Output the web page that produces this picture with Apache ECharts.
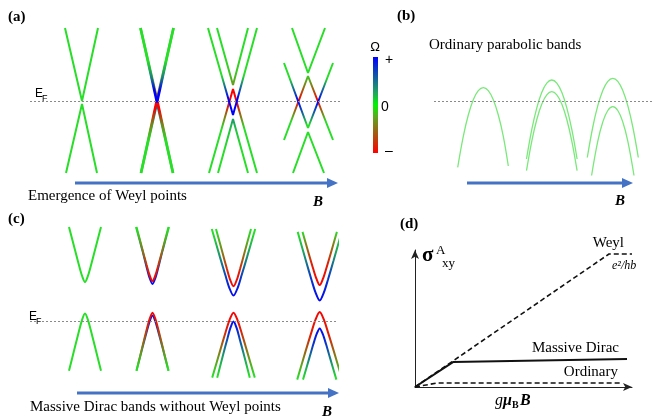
<!DOCTYPE html>
<html><head><meta charset="utf-8">
<script src="https://cdn.jsdelivr.net/npm/echarts/dist/echarts.min.js"></script>
<style>html,body{margin:0;padding:0;background:#fff}#c{width:654px;height:420px}</style>
</head><body><div id="c"></div>
<script>
// ================= DATA =================
// Band edges as [k, E] relative to each stage centre (E_F = 0, arbitrary units)
// Berry curvature Omega given as [E, Omega] stops along each band (-1 .. +1)

// ---- Panel (a): emergence of Weyl points ----
const stagesA = ['B0', 'B1', 'B2', 'B3'];
const a0Upper = [[-17, 73], [0, 0], [16, 73]];
const a0Lower = [[-16, -72], [0, -3], [15, -72]];
const a1Cone1Upper = [[-16.5, 73], [0, 1.5], [16.5, 73]];
const a1Cone1UpperOmega = [[1.5, -0.6], [20, -0.3], [40, 0]];
const a1Cone1Lower = [[-16, -72], [0, 1.5], [16, -72]];
const a1Cone1LowerOmega = [[1.5, -1], [-10, -1], [-25, -0.4], [-40, 0]];
const a1Cone2Upper = [[-16.5, 73], [0, -1.5], [16.5, 73]];
const a1Cone2UpperOmega = [[-1.5, 1], [12, 1], [25, 0.4], [40, 0]];
const a1Cone2Lower = [[-16, -72], [0, -1.5], [16, -72]];
const a1Cone2LowerOmega = [[-1.5, 0.6], [-20, 0.3], [-40, 0]];
const a2Cone1Upper = [[-16, 73], [0, 16], [15, 73]];
const a2Cone1UpperOmega = [[16, -0.35], [30, -0.1], [50, 0]];
const a2Cone1Lower = [[-24, -72], [0, 12], [24, -72]];
const a2Cone1LowerOmega = [[12, -1], [-4, -1], [-15, -0.5], [-28, 0]];
const a2Cone2Upper = [[-25, 73], [0, -14], [24, 73]];
const a2Cone2UpperOmega = [[-14, 1], [4, 1], [15, 0.5], [26, 0]];
const a2Cone2Lower = [[-15, -72], [0, -18], [15, -72]];
const a2Cone2LowerOmega = [[-18, 0.35], [-32, 0.1], [-50, 0]];
const a3Cone1Upper = [[-16, 73], [0, 28], [17, 73]];
const a3Cone1Lower = [[-24, -39], [0, 25], [25, -39]];
const a3Cone1LowerOmega = [[25, 0], [12, -0.5], [0, -1], [-10, -0.5], [-20, 0]];
const a3Cone2Upper = [[-24, 38], [0, -27], [25, 38]];
const a3Cone2UpperOmega = [[22, 0], [12, 0.5], [0, 1], [-12, 0.5], [-22, 0]];
const a3Cone2Lower = [[-15, -72], [0, -31], [16, -72]];

// ---- Panel (b): ordinary parabolic bands ----
const b0Band = [[-25.6, -66.3], [-20, -35.3], [-15, -14], [-10, 1.2], [-5, 10.3], [0, 13.3], [5, 10.3], [10, 1.2], [15, -14], [20, -35.3], [25, -65]];
const b1Upper = [[-25.3, -58], [-20, -28.4], [-15, -6.8], [-10, 8.7], [-5, 17.9], [0, 21], [5, 17.9], [10, 8.7], [15, -6.8], [20, -28.4], [25.3, -58]];
const b1Lower = [[-25.3, -69.7], [-20, -40.1], [-15, -18.5], [-10, -3], [-5, 6.2], [0, 9.3], [5, 6.2], [10, -3], [15, -18.5], [20, -40.1], [25.3, -69.7]];
const b2Upper = [[-25.5, -56.5], [-20, -26], [-15, -4.7], [-10, 10.5], [-5, 19.7], [0, 22.7], [5, 19.7], [10, 10.5], [15, -4.7], [20, -26], [25.5, -56.5]];
const b2Lower = [[-21.2, -74.5], [-15, -40.1], [-10, -21], [-5, -9.5], [0, -5.7], [5, -9.5], [10, -21], [15, -40.1], [21.2, -74.5]];

// ---- Panel (c): massive Dirac bands ----
const c0Upper = [[-16, 96], [-10, 72.5], [-6, 57], [-3, 46.5], [0, 40], [3, 46.5], [6, 57], [10, 72.5], [16, 96]];
const c0Lower = [[-16, -50], [-10, -25.7], [-6, -9.7], [-3, 1.4], [0, 8], [3, 1.4], [6, -9.7], [10, -25.7], [16, -50]];
const c1RedUpper = [[-16, 96], [-10, 72.9], [-6, 57.8], [-3, 47.3], [0, 41], [3, 47.3], [6, 57.8], [10, 72.9], [16, 96]];
const c1RedUpperOmega = [[41, -1], [55, -0.85], [75, -0.4], [92, 0]];
const c1BlueUpper = [[-16.5, 96], [-10, 71.7], [-6, 55.7], [-3, 44.6], [0, 38], [3, 44.6], [6, 55.7], [10, 71.7], [16.5, 96]];
const c1BlueUpperOmega = [[38, 1], [55, 0.8], [75, 0.4], [92, 0]];
const c1RedLower = [[-16, -50], [-10, -25.2], [-6, -9], [-3, 2.3], [0, 9], [3, 2.3], [6, -9], [10, -25.2], [16, -50]];
const c1RedLowerOmega = [[9, -1], [-5, -0.85], [-28, -0.4], [-46, 0]];
const c1BlueLower = [[-16, -50], [-10, -26.5], [-6, -11.1], [-3, -0.4], [0, 6], [3, -0.4], [6, -11.1], [10, -26.5], [16, -50]];
const c1BlueLowerOmega = [[6, 1], [-10, 0.8], [-28, 0.4], [-46, 0]];
const c2RedUpper = [[-17.5, 94], [-10.9, 69.5], [-6.6, 53.5], [-3.3, 42.3], [0, 35.7], [3.3, 42.3], [6.6, 53.5], [10.9, 69.5], [17.5, 94]];
const c2RedUpperOmega = [[35.7, -1], [52, -0.85], [72, -0.4], [90, 0]];
const c2BlueUpper = [[-21.7, 94], [-13.6, 65.6], [-8.1, 46.9], [-4.1, 34], [0, 26.3], [4.1, 34], [8.1, 46.9], [13.6, 65.6], [21.7, 94]];
const c2BlueUpperOmega = [[26.3, 1], [45, 0.75], [68, 0.3], [88, 0]];
const c2RedLower = [[-21.3, -57], [-13.3, -29.3], [-8, -11.1], [-4, 1.5], [0, 9], [4, 1.5], [8, -11.1], [13.3, -29.3], [21.3, -57]];
const c2RedLowerOmega = [[9, -1], [-10, -0.85], [-32, -0.4], [-53, 0]];
const c2BlueLower = [[-16.3, -57], [-10.2, -33.1], [-6.1, -17.4], [-3.1, -6.5], [0, 0], [3.1, -6.5], [6.1, -17.4], [10.2, -33.1], [16.3, -57]];
const c2BlueLowerOmega = [[0, 1], [-15, 0.75], [-35, 0.3], [-53, 0]];
const c3RedUpper = [[-17.2, 91], [-10.8, 68.3], [-6.5, 53.5], [-3.2, 43.2], [0, 37], [3.2, 43.2], [6.5, 53.5], [10.8, 68.3], [17.2, 91]];
const c3RedUpperOmega = [[37, -1], [60, -0.85], [78, -0.4], [89, 0]];
const c3BlueUpper = [[-22, 91], [-13.8, 61.7], [-8.3, 42.6], [-4.1, 29.2], [0, 21.3], [4.1, 29.2], [8.3, 42.6], [13.8, 61.7], [22, 91]];
const c3BlueUpperOmega = [[21.3, 1], [45, 0.75], [68, 0.3], [87, 0]];
const c3RedLower = [[-22.5, -59], [-14.1, -30.1], [-8.4, -11.3], [-4.2, 1.9], [0, 9.7], [4.2, 1.9], [8.4, -11.3], [14.1, -30.1], [22.5, -59]];
const c3RedLowerOmega = [[9.7, -1], [-15, -0.85], [-37, -0.4], [-55, 0]];
const c3BlueLower = [[-16.7, -59], [-10.4, -37.2], [-6.3, -22.9], [-3.1, -12.9], [0, -7], [3.1, -12.9], [6.3, -22.9], [10.4, -37.2], [16.7, -59]];
const c3BlueLowerOmega = [[-7, 1], [-25, 0.75], [-42, 0.3], [-56, 0]];

// ---- Panel (d): anomalous Hall conductivity vs g*muB*B ----
const dWeyl = [[0, 0], [89.4, 97.1], [100, 97.1]];
const dMassiveDirac = [[0, 0], [17.5, 18.2], [97.7, 20.4]];
const dOrdinary = [[0, 0], [10.1, 2.9], [95.4, 2.9]];

// Colour bar ticks
const omegaTicks = ['+', '0', '\u2013'];

// ================= LAYOUT / STYLE =================
const stageXA = [52, 127, 203, 278];
const stageXB = [49.3, 117.8, 178.8];
const stageXC = [55, 122.5, 203.5, 289.7];
const SERIF = 'Liberation Serif';
const SANS = 'Liberation Sans';
const GREEN = [40, 222, 40], RED = [250, 0, 0], BLUE = [0, 0, 250];

function omegaColor(w) {
  const t = Math.min(1, Math.abs(w));
  const c = w < 0 ? RED : BLUE;
  const m = GREEN.map((g, i) => Math.round(g + (c[i] - g) * t));
  return 'rgb(' + m.join(',') + ')';
}

function band(grid, cx, pts, omega, opt) {
  opt = opt || {};
  const es = pts.map(p => p[1]);
  const eMax = Math.max(...es), eMin = Math.min(...es);
  let color;
  if (opt.color) color = opt.color;
  else if (!omega || omega.length === 1) color = omegaColor(omega ? omega[0][1] : 0);
  else {
    const stops = omega.map(([e, w]) => ({
      offset: Math.min(1, Math.max(0, (eMax - e) / (eMax - eMin))),
      color: omegaColor(w)
    })).sort((a, b) => a.offset - b.offset);
    color = new echarts.graphic.LinearGradient(0, 0, 0, 1, stops);
  }
  return {
    type: 'line', xAxisIndex: grid, yAxisIndex: grid,
    data: pts.map(p => [cx + p[0], p[1]]),
    symbol: 'none', showSymbol: false, smooth: opt.smooth || false,
    clip: false, silent: true, animation: false,
    lineStyle: { width: opt.width || 2, color: color, type: opt.type || 'solid' },
    z: opt.z || 3
  };
}

function efLine(grid) {
  return {
    type: 'line', xAxisIndex: grid, yAxisIndex: grid, data: [], silent: true,
    markLine: {
      silent: true, symbol: 'none', animation: false, label: { show: false },
      lineStyle: { color: '#8a8a8a', type: [2, 2], width: 1 },
      data: [{ yAxis: 0 }]
    }, z: 1
  };
}

const series = [];
series.push(efLine(0), efLine(1), efLine(2));

// Panel (a)
series.push(band(0, stageXA[0], a0Upper, null));
series.push(band(0, stageXA[0], a0Lower, null));
series.push(band(0, stageXA[1], a1Cone1Upper, a1Cone1UpperOmega, { width: 2.6 }));
series.push(band(0, stageXA[1], a1Cone2Lower, a1Cone2LowerOmega, { width: 2.6 }));
series.push(band(0, stageXA[1], a1Cone1Lower, a1Cone1LowerOmega, { width: 2.6 }));
series.push(band(0, stageXA[1], a1Cone2Upper, a1Cone2UpperOmega, { width: 2.6 }));
series.push(band(0, stageXA[2], a2Cone1Upper, a2Cone1UpperOmega));
series.push(band(0, stageXA[2], a2Cone2Lower, a2Cone2LowerOmega));
series.push(band(0, stageXA[2], a2Cone1Lower, a2Cone1LowerOmega));
series.push(band(0, stageXA[2], a2Cone2Upper, a2Cone2UpperOmega));
series.push(band(0, stageXA[3], a3Cone1Upper, null));
series.push(band(0, stageXA[3], a3Cone2Lower, null));
series.push(band(0, stageXA[3], a3Cone1Lower, a3Cone1LowerOmega));
series.push(band(0, stageXA[3], a3Cone2Upper, a3Cone2UpperOmega));

// Panel (b)
const bStyle = { color: '#7ae87a', width: 1.3, smooth: 0.4 };
series.push(band(1, stageXB[0], b0Band, null, bStyle));
series.push(band(1, stageXB[1], b1Upper, null, bStyle));
series.push(band(1, stageXB[1], b1Lower, null, bStyle));
series.push(band(1, stageXB[2], b2Upper, null, bStyle));
series.push(band(1, stageXB[2], b2Lower, null, bStyle));

// Panel (c)
const cS = { smooth: 0.3, width: 2 };
series.push(band(2, stageXC[0], c0Upper, null, cS));
series.push(band(2, stageXC[0], c0Lower, null, cS));
series.push(band(2, stageXC[1], c1BlueUpper, c1BlueUpperOmega, cS));
series.push(band(2, stageXC[1], c1RedUpper, c1RedUpperOmega, cS));
series.push(band(2, stageXC[1], c1BlueLower, c1BlueLowerOmega, cS));
series.push(band(2, stageXC[1], c1RedLower, c1RedLowerOmega, cS));
series.push(band(2, stageXC[2], c2BlueUpper, c2BlueUpperOmega, cS));
series.push(band(2, stageXC[2], c2RedUpper, c2RedUpperOmega, cS));
series.push(band(2, stageXC[2], c2BlueLower, c2BlueLowerOmega, cS));
series.push(band(2, stageXC[2], c2RedLower, c2RedLowerOmega, cS));
series.push(band(2, stageXC[3], c3BlueUpper, c3BlueUpperOmega, cS));
series.push(band(2, stageXC[3], c3RedUpper, c3RedUpperOmega, cS));
series.push(band(2, stageXC[3], c3BlueLower, c3BlueLowerOmega, cS));
series.push(band(2, stageXC[3], c3RedLower, c3RedLowerOmega, cS));

// Panel (d)
series.push(band(3, 0, dWeyl, null, { color: '#111', width: 1.6, type: [5, 3] }));
series.push(band(3, 0, dOrdinary, null, { color: '#111', width: 1.6, type: [5, 3] }));
series.push(band(3, 0, dMassiveDirac, null, { color: '#111', width: 2 }));

// ---------- axes ----------
const hidden = { show: false };
function hAxis(grid, min, max) {
  return { type: 'value', gridIndex: grid, min: min, max: max, axisLine: hidden, axisTick: hidden, axisLabel: hidden, splitLine: hidden };
}
const dAxisLine = { show: true, symbol: ['none', 'arrow'], symbolSize: [6, 9], lineStyle: { color: '#222', width: 1 } };
const xAxes = [hAxis(0, 0, 312), hAxis(1, 0, 220), hAxis(2, 0, 308),
  { type: 'value', gridIndex: 3, min: 0, max: 100, axisLine: dAxisLine, axisTick: hidden, axisLabel: hidden, splitLine: hidden }];
const yAxes = [hAxis(0, -73, 73), hAxis(1, -73, 73), hAxis(2, -100, 100),
  { type: 'value', gridIndex: 3, min: 0, max: 100, axisLine: dAxisLine, axisTick: hidden, axisLabel: hidden, splitLine: hidden }];

// ---------- decorations ----------
function T(text, x, y, font, align, extra) {
  return Object.assign({
    type: 'text', x: x, y: y, silent: true, z: 10,
    style: { text: text, font: font, fill: '#000', align: align || 'left', verticalAlign: 'middle', textAlign: align || 'left', textVerticalAlign: 'middle' }
  }, extra || {});
}
function arrow(x1, x2, y) {
  return [
    { type: 'line', silent: true, z: 5, shape: { x1: x1, y1: y, x2: x2 - 8, y2: y }, style: { stroke: '#4472C4', lineWidth: 3 } },
    { type: 'polygon', silent: true, z: 5, shape: { points: [[x2 - 11, y - 5], [x2, y], [x2 - 11, y + 5]] }, style: { fill: '#4472C4' } }
  ];
}
const barStops = [];
for (let i = 0; i <= 8; i++) barStops.push({ offset: i / 8, color: omegaColor(1 - i / 4) });
barStops.forEach(s => { if (s.offset === 0) s.color = 'rgb(0,0,255)'; if (s.offset === 1) s.color = 'rgb(255,0,0)'; if (s.offset === 0.5) s.color = 'rgb(0,245,0)'; });

const graphics = [].concat(
  arrow(75, 338, 183), arrow(467, 633, 183), arrow(77, 339, 393),
  [
    { type: 'rect', silent: true, shape: { x: 373, y: 57, width: 5, height: 96 }, style: { fill: new echarts.graphic.LinearGradient(0, 0, 0, 1, barStops) } },
    T('\u03A9', 375, 47, '13px ' + SANS, 'center'),
    T(omegaTicks[0], 385, 60, '14px ' + SANS),
    T(omegaTicks[1], 381, 107, '14px ' + SANS),
    T(omegaTicks[2], 385, 151, '14px ' + SANS),
    T('(a)', 8, 17, 'bold 15px ' + SERIF),
    T('(b)', 397, 16, 'bold 15px ' + SERIF),
    T('(c)', 8, 219, 'bold 15px ' + SERIF),
    T('(d)', 400, 224, 'bold 15px ' + SERIF),
    T('E', 35, 94, '12px ' + SANS),
    T('F', 42, 99, '9px ' + SANS),
    T('E', 29, 317, '12px ' + SANS),
    T('F', 36, 322, '9px ' + SANS),
    T('Emergence of Weyl points', 28, 196, '15px ' + SERIF),
    T('B', 313, 202, 'italic bold 15px ' + SERIF),
    T('Ordinary parabolic bands', 429, 45, '15px ' + SERIF),
    T('B', 615, 201, 'italic bold 15px ' + SERIF),
    T('Massive Dirac bands without Weyl points', 30, 407, '15px ' + SERIF),
    T('B', 322, 412, 'italic bold 15px ' + SERIF),
    T('\u03C3', 422, 256, 'bold 21px ' + SERIF),
    T('A', 436, 251, '13px ' + SERIF),
    T('xy', 442, 264, '13px ' + SERIF),
    T('Weyl', 624, 243, '15px ' + SERIF, 'right'),
    T('e\u00B2/hb', 612, 266, 'italic 12px ' + SERIF),
    T('Massive Dirac', 619, 348, '15px ' + SERIF, 'right'),
    T('Ordinary', 618, 372, '15px ' + SERIF, 'right'),
    T('g', 495, 401, 'italic 16px ' + SERIF),
    T('\u03BC', 503, 401, 'italic bold 16px ' + SERIF),
    T('B', 512, 405, 'bold 10px ' + SERIF),
    T('B', 520, 401, 'italic bold 16px ' + SERIF)
  ]
);

const chart = echarts.init(document.getElementById('c'), null, { renderer: 'canvas' });
chart.setOption({
  animation: false,
  backgroundColor: '#fff',
  grid: [
    { left: 30, top: 28, width: 312, height: 146 },
    { left: 434, top: 28, width: 220, height: 146 },
    { left: 30, top: 223, width: 308, height: 200 },
    { left: 415, top: 250, width: 217, height: 137 }
  ],
  xAxis: xAxes,
  yAxis: yAxes,
  series: series,
  graphic: { elements: graphics }
});
</script>
</body></html>
